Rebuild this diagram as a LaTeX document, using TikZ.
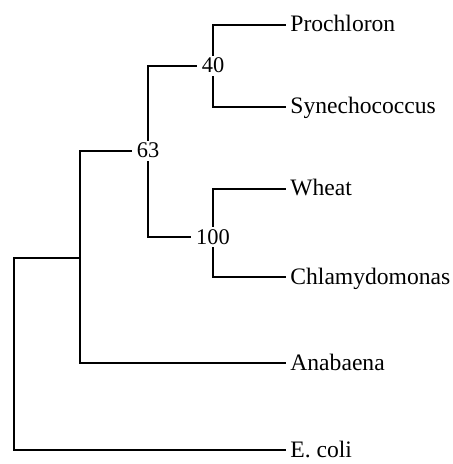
\documentclass[tikz,border=0pt]{standalone}
\usepackage{fontspec}
\setmainfont{Liberation Serif}
\usepackage{tikz}
\usetikzlibrary{calc}
\tikzset{
  leaf/.style={anchor=west,inner xsep=2.5pt,inner ysep=1pt,
    text height=0.7em,text depth=0pt,font=\fontsize{11.8}{13}\selectfont},
  boot/.style={inner xsep=3pt,inner ysep=1.8pt,
    text height=0.7em,text depth=0pt,font=\fontsize{11.2}{13}\selectfont},
  branch/.style={line width=1.3pt,line cap=rect}
}
\begin{document}
\begin{tikzpicture}[x=0.5pt,y=-0.5pt]
  \useasboundingbox (0,0) rectangle (452,464);
  % leaves
  \node[leaf] (pro) at (285,25) {Prochloron};
  \node[leaf] (syn) at (285,107) {Synechococcus};
  \node[leaf] (wht) at (285,189) {Wheat};
  \node[leaf] (chl) at (285,277) {Chlamydomonas};
  \node[leaf] (ana) at (285,363) {Anabaena};
  \node[leaf] (eco) at (285,450) {E. coli};
  % bootstrap values
  \node[boot] (n40) at (213,66) {40};
  \node[boot] (n63) at (148,151) {63};
  \node[boot] (n100) at (213,237) {100};
  \coordinate (nA) at (80,151);
  \coordinate (nR) at (14,258);
  % branches
  \draw[branch] (pro.west) -| (n40);
  \draw[branch] (syn.west) -| (n40);
  \draw[branch] (wht.west) -| (n100);
  \draw[branch] (chl.west) -| (n100);
  \draw[branch] (n40) -| (n63);
  \draw[branch] (n100) -| (n63);
  \draw[branch] (n63) -- (nA) |- (ana.west);
  \draw[branch] (nA |- nR) -- (nR) |- (eco.west);
\end{tikzpicture}
\end{document}
